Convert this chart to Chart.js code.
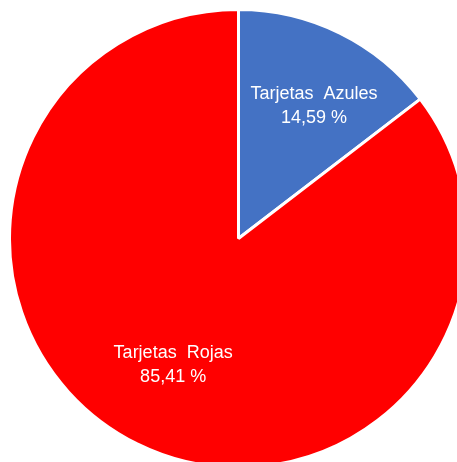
<!DOCTYPE html>
<html>
<head>
<meta charset="utf-8">
<script src="https://cdn.jsdelivr.net/npm/chart.js@4/dist/chart.umd.min.js"></script>
<style>
  html, body { margin: 0; padding: 0; background: #fff; overflow: hidden; width: 457px; height: 462px; }
  #wrap { position: absolute; left: 8px; top: 8px; width: 461px; height: 461px; }
</style>
</head>
<body>
<div id="wrap"><canvas id="chart" width="461" height="461"></canvas></div>
<script>
const labels = ['Tarjetas  Azules', 'Tarjetas  Rojas'];
const values = [14.59, 85.41];
const valueText = ['14,59 %', '85,41 %'];
const colors = ['#4472C4', '#FF0000'];

// white text inside each slice, placed near the slice's middle angle
const sliceLabels = {
  id: 'sliceLabels',
  afterDatasetsDraw(chart) {
    const ctx = chart.ctx;
    const arcs = chart.getDatasetMeta(0).data;
    ctx.save();
    ctx.fillStyle = '#fff';
    ctx.font = '18px "Liberation Sans", sans-serif';
    ctx.textAlign = 'center';
    ctx.textBaseline = 'middle';
    arcs.forEach((arc, i) => {
      const { x, y, startAngle, endAngle, outerRadius } = arc.getProps(['x','y','startAngle','endAngle','outerRadius'], true);
      const mid = (startAngle + endAngle) / 2 + (i === 0 ? 0.06 : 0.02);
      const r = outerRadius * (i === 0 ? 0.665 : 0.62);
      const cx = x + Math.cos(mid) * r;
      const cy = y + Math.sin(mid) * r;
      ctx.fillText(labels[i], cx, cy - 12);
      ctx.fillText(valueText[i], cx, cy + 12);
    });
    ctx.restore();
  }
};

new Chart(document.getElementById('chart'), {
  type: 'pie',
  data: {
    labels,
    datasets: [{
      data: values,
      backgroundColor: colors,
      borderColor: '#fff',
      borderWidth: 3
    }]
  },
  options: {
    responsive: false,
    animation: false,
    layout: { padding: 0 },
    plugins: { legend: { display: false }, tooltip: { enabled: false } }
  },
  plugins: [sliceLabels]
});
</script>
</body>
</html>
